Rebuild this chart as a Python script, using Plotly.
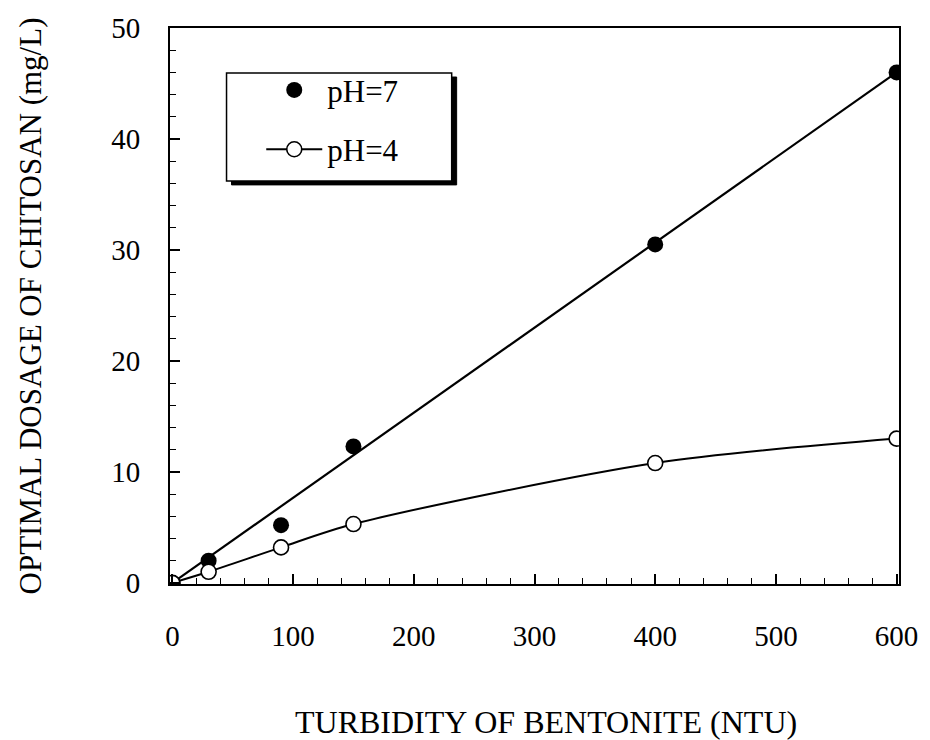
import plotly.graph_objects as go

turbidity = [0, 30, 90, 150, 400, 600]
dose_ph7 = [0, 2.0, 5.2, 12.3, 30.5, 46.0]
dose_ph4 = [0, 1.0, 3.2, 5.3, 10.8, 13.0]
fit_x = [0, 600]
fit_y = [0, 46.0]
x_ticks = [0, 100, 200, 300, 400, 500, 600]
y_ticks = [0, 10, 20, 30, 40, 50]
x_title = "TURBIDITY OF BENTONITE (NTU)"
y_title = "OPTIMAL DOSAGE OF CHITOSAN (mg/L)"

FONT = "Liberation Serif"
W, H = 930, 740
L, R, T, B = 170, 25, 17, 156
pw, ph = W - L - R, H - T - B

def px_x(p):
    return (p - L) / pw

def px_y(p):
    return (H - B - p) / ph

fig = go.Figure()
fig.add_trace(go.Scatter(x=fit_x, y=fit_y, mode="lines",
                         line=dict(color="black", width=2.2),
                         showlegend=False, hoverinfo="skip"))
fig.add_trace(go.Scatter(x=turbidity, y=dose_ph7, mode="markers", name="pH=7",
                         legendgroup="a",
                         marker=dict(symbol="circle", size=16, color="black")))
fig.add_trace(go.Scatter(x=turbidity, y=dose_ph4, mode="lines+markers", name="pH=4",
                         legendgroup="b",
                         line=dict(color="black", width=2, shape="spline", smoothing=0.8),
                         marker=dict(symbol="circle", size=15, color="white",
                                     line=dict(color="black", width=1.6))))

# legend box with shadow
x0, x1 = px_x(227), px_x(454)
y0, y1 = px_y(173), px_y(63)
dx, dy = 5 / pw, 4 / ph
fig.add_shape(type="rect", xref="paper", yref="paper",
              x0=x0 + dx, x1=x1 + dx, y0=y0 - dy, y1=y1 - dy,
              fillcolor="black", line=dict(color="black", width=1), layer="above")
fig.add_shape(type="rect", xref="paper", yref="paper",
              x0=x0, x1=x1, y0=y0, y1=y1,
              fillcolor="white", line=dict(color="black", width=1.5), layer="above")

fig.add_annotation(text=x_title, xref="paper", yref="paper",
                   x=px_x(549), y=px_y(725), xanchor="center", yanchor="middle",
                   showarrow=False, font=dict(family=FONT, size=32, color="black"))

fig.update_layout(
    width=W, height=H,
    margin=dict(l=L, r=R, t=T, b=B, pad=0),
    paper_bgcolor="white", plot_bgcolor="white",
    font=dict(family=FONT, size=28, color="black"),
    showlegend=True,
    legend=dict(x=px_x(262), y=px_y(53), xanchor="left", yanchor="top",
                bgcolor="rgba(0,0,0,0)", borderwidth=0,
                traceorder="grouped", tracegroupgap=16,
                font=dict(family=FONT, size=31), itemwidth=56),
    xaxis=dict(range=[-2, 602], tickmode="array", tickvals=x_ticks,
               ticks="inside", ticklen=10, tickwidth=1.5, tickcolor="black",
               minor=dict(dtick=20, ticks="inside", ticklen=6, tickwidth=1.2, tickcolor="black"),
               showline=True, linecolor="black", linewidth=2, mirror=True,
               showgrid=False, zeroline=False, ticklabelstandoff=25,
               tickfont=dict(family=FONT, size=29)),
    yaxis=dict(range=[-0.1, 50], tickmode="array", tickvals=y_ticks,
               ticks="inside", ticklen=10, tickwidth=1.5, tickcolor="black",
               minor=dict(dtick=2, ticks="inside", ticklen=6, tickwidth=1.2, tickcolor="black"),
               showline=True, linecolor="black", linewidth=2, mirror=True,
               showgrid=False, zeroline=False, ticklabelstandoff=22,
               tickfont=dict(family=FONT, size=29),
               title=dict(text=y_title, standoff=60,
                          font=dict(family=FONT, size=31))),
)

fig.write_html("out.html")
